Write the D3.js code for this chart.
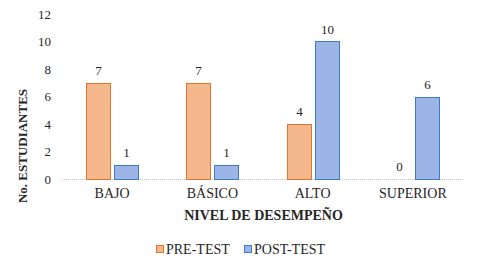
<!DOCTYPE html>
<html lang="es">
<head>
<meta charset="UTF-8">
<title>Nivel de desempeño</title>
<script src="https://d3js.org/d3.v7.min.js"></script>
<style>
  body { margin: 0; background: #fff; }
  svg text { font-family: "Liberation Serif", "Times New Roman", serif; fill: #262626; }
</style>
</head>
<body>
<svg width="479" height="271"></svg>
<script>
const categories = ["BAJO", "BÁSICO", "ALTO", "SUPERIOR"];
const series = ["PRE-TEST", "POST-TEST"];
const preTest = [7, 7, 4, 0];
const postTest = [1, 1, 10, 6];
const yTicks = [0, 2, 4, 6, 8, 10, 12];

const svg = d3.select("svg");
const margin = {top: 14, right: 16, bottom: 92, left: 62};
const width = 479 - margin.left - margin.right;
const height = 271 - margin.top - margin.bottom;

// flat colours standing in for the dotted fills
const fills = ["#F5B78C", "#9CB5E6"];
const strokes = ["#E2752B", "#3C7CC7"];

const g = svg.append("g").attr("transform", `translate(${margin.left},${margin.top})`);

const x = d3.scaleBand().domain(categories).range([0, width]).padding(0);
const x1 = d3.scaleBand().domain(series).range([x.bandwidth() * 0.24, x.bandwidth() * 0.77]).paddingInner(0.12);
const y = d3.scaleLinear().domain([0, 12]).range([height, 0]);

// y tick labels, no axis line
g.append("g").selectAll("text").data(yTicks).enter().append("text")
  .attr("x", -11).attr("y", d => y(d)).attr("dy", "0.35em")
  .attr("text-anchor", "end").attr("font-size", 13).text(d => d);

// baseline
g.append("line").attr("x1", 0).attr("x2", width).attr("y1", y(0) + 0.5).attr("y2", y(0) + 0.5)
  .attr("stroke", "#BFBFBF").attr("stroke-width", 1).attr("stroke-dasharray", "1,1");

const data = categories.map((c, i) => ({cat: c, vals: [preTest[i], postTest[i]]}));

const groups = g.selectAll(".grp").data(data).enter().append("g")
  .attr("transform", d => `translate(${Math.round(x(d.cat))},0)`);

groups.selectAll("rect").data(d => d.vals.map((v, k) => ({k, v}))).enter()
  .filter(d => d.v > 0)
  .append("rect")
  .attr("x", d => Math.round(x1(series[d.k])) + 0.5)
  .attr("y", d => Math.round(y(d.v)) + 0.5)
  .attr("width", Math.round(x1.bandwidth()) - 1)
  .attr("height", d => Math.round(y(0)) - Math.round(y(d.v)))
  .attr("fill", d => fills[d.k])
  .attr("stroke", d => strokes[d.k]).attr("stroke-width", 1);

groups.selectAll("text.val").data(d => d.vals.map((v, k) => ({k, v}))).enter()
  .append("text").attr("class", "val")
  .attr("x", d => Math.round(x1(series[d.k])) + x1.bandwidth() / 2)
  .attr("y", d => y(d.v) - 8)
  .attr("text-anchor", "middle").attr("font-size", 13).text(d => d.v);

// category labels
g.append("g").selectAll("text").data(categories).enter().append("text")
  .attr("x", d => x(d) + x.bandwidth() / 2).attr("y", height + 19)
  .attr("text-anchor", "middle").attr("font-size", 14).text(d => d);

// axis titles
g.append("text").attr("x", width / 2 + 1).attr("y", height + 41)
  .attr("text-anchor", "middle").attr("font-size", 14).attr("font-weight", "bold")
  .text("NIVEL DE DESEMPEÑO");

svg.append("text").attr("transform", "translate(27,146) rotate(-90)")
  .attr("text-anchor", "middle").attr("font-size", 13).attr("font-weight", "bold")
  .text("No. ESTUDIANTES");

// legend
const legendX = [156, 244];
const legend = svg.append("g").selectAll("g").data(series).enter().append("g")
  .attr("transform", (d, i) => `translate(${legendX[i]},249)`);
legend.append("rect").attr("x", 0.5).attr("y", -3.5).attr("width", 7).attr("height", 7)
  .attr("fill", (d, i) => fills[i]).attr("stroke", (d, i) => strokes[i]);
legend.append("text").attr("x", 10).attr("y", 0).attr("dy", "0.35em")
  .attr("font-size", 14).text(d => d);
</script>
</body>
</html>
